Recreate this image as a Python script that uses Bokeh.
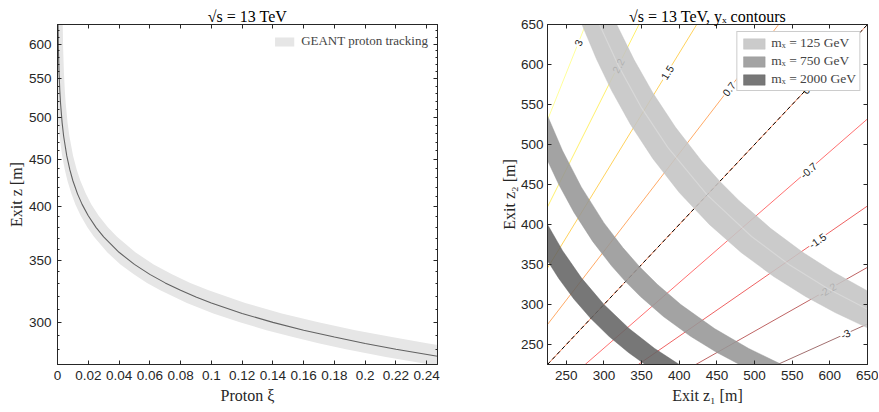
import math
from bokeh.plotting import figure
from bokeh.models import (FixedTicker, LinearAxis, LogAxis, CustomJSTickFormatter,
                          Legend, LegendItem, Range1d, ColumnDataSource)
from bokeh.layouts import row
from bokeh.embed import file_html
from bokeh.resources import INLINE
from bokeh.core.properties import value

# ---------------- data: left panel (exit z vs proton xi) ----------------
xi_center = [0.0003, 0.0006, 0.001, 0.0015, 0.002, 0.003, 0.004, 0.006, 0.008, 0.01,
             0.013, 0.016, 0.02, 0.025, 0.03, 0.04, 0.05, 0.06, 0.07, 0.08, 0.09,
             0.10, 0.12, 0.14, 0.16, 0.18, 0.20, 0.22, 0.247]
z_center = [637.8, 591.8, 559.2, 534.2, 517.0, 493.3, 476.9, 454.3, 438.7, 426.8,
            413.1, 402.4, 391.1, 380.0, 371.1, 357.1, 346.5, 338.0, 330.9, 324.8, 319.5,
            314.8, 306.6, 299.9, 294.1, 289.1, 284.5, 280.5, 275.6]

xi_band_upper = [0.0, 0.00333, 0.00369, 0.00417, 0.00476, 0.00536, 0.00655, 0.00774, 0.01012,
                 0.0125, 0.01488, 0.01845, 0.02202, 0.02679, 0.03274, 0.03869, 0.0506, 0.0625,
                 0.0744, 0.08631, 0.09821, 0.122, 0.1458, 0.1696, 0.1935, 0.2173, 0.2411, 0.253]
z_band_upper = [637.8, 637.8, 591.8, 559.2, 534.2, 517.0, 493.3, 476.9, 454.3,
                438.7, 426.8, 413.1, 402.4, 391.1, 380.0, 371.1, 357.1, 346.5,
                338.0, 330.9, 324.8, 314.8, 306.6, 299.9, 294.1, 289.1, 284.5, 282.5]
xi_band_lower = [0.0, 0.00043, 0.00129, 0.00302, 0.00474, 0.00647, 0.00905, 0.01164, 0.01509,
                 0.0194, 0.0237, 0.0323, 0.0409, 0.0496, 0.0582, 0.0668, 0.0841, 0.1013,
                 0.1185, 0.1358, 0.153, 0.1703, 0.1875, 0.2134, 0.2478]
z_band_lower = [503.9, 493.3, 476.9, 454.3, 438.7, 426.8, 413.1, 402.4, 391.1,
                380.0, 371.1, 357.1, 346.5, 338.0, 330.9, 324.8, 314.8, 306.6,
                299.9, 294.1, 289.1, 284.5, 280.5, 275.1, 269.0]

xi_ticks = [0, 0.02, 0.04, 0.06, 0.08, 0.10, 0.12, 0.14, 0.16, 0.18, 0.20, 0.22, 0.24]
z_ticks = [300, 350, 400, 450, 500, 550, 600]

# ---------------- data: right panel (z1, z2 plane) ----------------
yx_levels = ["3", "2.2", "1.5", "0.7", "0", "-0.7", "-1.5", "-2.2", "-3"]
cont_x0 = [225, 225, 225, 225, 225, 275, 345.6, 422, 530.6]
cont_y0 = [530.6, 422, 345.6, 275, 225, 225, 225, 225, 225]
cont_x1 = [275.7, 346.5, 423.2, 532, 650, 650, 650, 650, 650]
cont_y1 = [650, 650, 650, 650, 650, 532, 423.2, 346.5, 275.7]
label_x = [266, 319, 384, 466, 568, 571.6, 583.6, 596.9, 620.8]
label_y = [627, 598.5, 590, 569.5, 568, 467.8, 380, 318.2, 263.3]

mx_labels = ["mₓ = 125 GeV", "mₓ = 750 GeV", "mₓ = 2000 GeV"]
# inner (lower-left) and outer (upper-right) band edges, (z1, z2) in m
b125_in_x = [270.8, 290, 310, 335, 365, 400, 440, 482.2, 525.4, 567.7, 606.9, 650]
b125_in_y = [650, 606.9, 567.7, 525.4, 482.2, 440, 400, 365, 335, 310, 290, 270.8]
b125_out_x = [316.9, 340, 365, 395, 430, 454, 479.1, 521.5, 564.4, 605.9, 650]
b125_out_y = [650, 605.9, 564.4, 521.5, 479.1, 453.7, 430, 395, 365, 340, 316.9]
b125_mid_x = [294, 320, 350, 385, 437, 496, 545.7, 597, 650]
b125_mid_y = [650, 597, 545.7, 496, 437, 385, 350, 320, 294]
b750_in_x = [225, 240, 260, 285, 310, 328.6, 348.4, 378.9, 415.4, 450, 480]
b750_in_y = [480, 450, 415.4, 378.9, 348.4, 328.6, 310, 285, 260, 240, 225]
b750_out_x = [225, 245, 270, 300, 325, 347.3, 371.1, 402, 446.7, 492.2, 536]
b750_out_y = [536, 492.2, 446.7, 402, 371.1, 347.3, 325, 300, 270, 245, 225]
b2000_in_x = [225, 240, 260, 282.5, 306.9, 332.5, 354.7]
b2000_in_y = [354.7, 332.5, 306.9, 282.5, 260, 240, 225]
b2000_out_x = [225, 245, 270, 300, 333.3, 367.3, 400]
b2000_out_y = [400, 367.3, 333.3, 300, 270, 245, 225]

z_ticks_r = [250, 300, 350, 400, 450, 500, 550, 600, 650]

# ---------------- styles ----------------
AX = "#262626"
SANS = "Liberation Sans"
SERIF = "Liberation Serif"
cont_colors = ["#ffff9a", "#fff06c", "#ffd25c", "#ffaa66", "#ff8c60",
               "#ff7070", "#ee6262", "#bf6464", "#a27070"]
band_colors = ["#c4c4c4", "#969696", "#646464"]


def style_axis(ax, labels=True, tick_standoff=6, label_standoff=1):
    ax.major_tick_in = 4
    ax.major_tick_out = 0
    ax.minor_tick_in = 2
    ax.minor_tick_out = 0
    ax.axis_line_color = AX
    ax.major_tick_line_color = AX
    ax.minor_tick_line_color = AX
    ax.major_label_text_font = SANS
    ax.major_label_text_font_size = "13.5px"
    ax.major_label_text_color = AX
    ax.axis_label_text_font = SERIF
    ax.axis_label_text_font_style = "normal"
    ax.axis_label_text_font_size = "16px"
    ax.axis_label_text_color = AX
    if labels:
        ax.major_label_standoff = tick_standoff
        ax.axis_label_standoff = label_standoff
    else:
        ax.major_label_text_font_size = "1px"
        ax.major_label_text_color = None
        ax.major_label_standoff = 0


def style_title(p):
    p.title.text_font = SERIF
    p.title.text_font_style = "normal"
    p.title.text_font_size = "16px"
    p.title.align = "center"
    p.title.text_color = "black"
    p.title.standoff = 0
    p.title.offset = 0


# ---------------- left panel ----------------
p1 = figure(width=496, height=410, x_range=Range1d(0, 0.247),
            y_range=Range1d(270, 630), y_axis_type="log",
            output_backend="svg", toolbar_location=None,
            min_border_left=57, min_border_right=59, min_border_top=23, min_border_bottom=46,
            title="√s = 13 TeV")
style_title(p1)
p1.grid.visible = False
p1.outline_line_color = AX

band_x = xi_band_upper + xi_band_lower[::-1]
band_y = z_band_upper + z_band_lower[::-1]
band_r = p1.patch(band_x, band_y, fill_color="#e6e6e6", line_color=None)
p1.line(xi_center, z_center, line_color="#626262", line_width=1.1)

xt = FixedTicker(ticks=xi_ticks)
yt = FixedTicker(ticks=z_ticks, minor_ticks=list(range(270, 631, 10)))
xfmt = CustomJSTickFormatter(code="return String(Math.round(tick*100)/100);")
yfmt = CustomJSTickFormatter(code="return tick.toFixed(0);")
p1.xaxis.ticker = xt
p1.xaxis.formatter = xfmt
p1.yaxis.ticker = yt
p1.yaxis.formatter = yfmt
p1.xaxis.axis_label = "Proton ξ"
p1.yaxis.axis_label = "Exit z [m]"
for ax in p1.xaxis:
    style_axis(ax, tick_standoff=6, label_standoff=4)
for ax in p1.yaxis:
    style_axis(ax, tick_standoff=6, label_standoff=1)
top1 = LinearAxis(ticker=FixedTicker(ticks=xi_ticks))
right1 = LogAxis(ticker=FixedTicker(ticks=z_ticks, minor_ticks=list(range(270, 631, 10))))
style_axis(top1, labels=False)
style_axis(right1, labels=False)
p1.add_layout(top1, "above")
p1.add_layout(right1, "right")

leg1 = Legend(items=[LegendItem(label="GEANT proton tracking", renderers=[band_r])],
              location="top_right")
leg1.border_line_alpha = 0
leg1.background_fill_alpha = 0
leg1.label_text_font = SERIF
leg1.label_text_font_size = "13px"
leg1.glyph_width = 24
leg1.glyph_height = 11
leg1.margin = 2
leg1.padding = 7
leg1.label_standoff = 5
p1.add_layout(leg1)

# ---------------- right panel ----------------
xr0, xr1, yr0, yr1 = 225, 650, 225, 650
FW, FH = 320, 342
p2 = figure(width=382, height=410, x_range=Range1d(xr0, xr1),
            y_range=Range1d(yr0, yr1), output_backend="svg", toolbar_location=None,
            min_border_left=51, min_border_right=11, min_border_top=24, min_border_bottom=44,
            title="√s = 13 TeV, yₓ contours")
style_title(p2)
p2.grid.visible = False
p2.outline_line_color = AX

sx = FW / (xr1 - xr0)
sy = FH / (yr1 - yr0)
angles = [math.atan2((b - a) * sy, (d - c) * sx)
          for a, b, c, d in zip(cont_y0, cont_y1, cont_x0, cont_x1)]

for i in range(len(yx_levels)):
    p2.line([cont_x0[i], cont_x1[i]], [cont_y0[i], cont_y1[i]],
            line_color=cont_colors[i], line_width=1)

lab_src = ColumnDataSource(dict(x=label_x, y=label_y, t=yx_levels, a=angles))
p2.text(x="x", y="y", text="t", angle="a", source=lab_src,
        text_font=value(SANS), text_font_size="10.5px", text_color="#222222",
        text_align="center", text_baseline="middle",
        background_fill_color="white", padding=1)

zi = yx_levels.index("0")
p2.line([cont_x0[zi], cont_x1[zi]], [cont_y0[zi], cont_y1[zi]],
        line_color="black", line_width=1, line_dash="4 3")

bands = [(b125_in_x, b125_in_y, b125_out_x, b125_out_y),
         (b750_in_x, b750_in_y, b750_out_x, b750_out_y),
         (b2000_in_x, b2000_in_y, b2000_out_x, b2000_out_y)]
band_rs = []
for (ix, iy, ox, oy), col in zip(bands, band_colors):
    r = p2.patch(ix + ox[::-1], iy + oy[::-1], fill_color=col, fill_alpha=0.88,
                 line_color=col, line_alpha=0.9, line_width=0.5)
    band_rs.append(r)
p2.line(b125_mid_x, b125_mid_y, line_color="white", line_alpha=0.25, line_width=1.2)

xt2 = FixedTicker(ticks=z_ticks_r)
p2.xaxis.ticker = xt2
p2.yaxis.ticker = FixedTicker(ticks=z_ticks_r)
p2.xaxis.axis_label = "Exit z₁ [m]"
p2.yaxis.axis_label = "Exit z₂ [m]"
for ax in p2.xaxis:
    style_axis(ax, tick_standoff=6, label_standoff=4)
for ax in p2.yaxis:
    style_axis(ax, tick_standoff=4, label_standoff=0)
top2 = LinearAxis(ticker=FixedTicker(ticks=z_ticks_r))
right2 = LinearAxis(ticker=FixedTicker(ticks=z_ticks_r))
style_axis(top2, labels=False)
style_axis(right2, labels=False)
p2.add_layout(top2, "above")
p2.add_layout(right2, "right")

leg2 = Legend(items=[LegendItem(label=l, renderers=[r]) for l, r in zip(mx_labels, band_rs)],
              location="top_right")
leg2.border_line_color = "#9a9a9a"
leg2.border_line_width = 1
leg2.background_fill_color = "white"
leg2.background_fill_alpha = 1
leg2.label_text_font = SERIF
leg2.label_text_font_size = "13.5px"
leg2.glyph_width = 27
leg2.glyph_height = 13
leg2.margin = 7
leg2.padding = 3
leg2.spacing = 2
leg2.label_standoff = 4
leg2.label_height = 14
p2.add_layout(leg2)

layout = row(p1, p2)
open("out.html", "w").write(file_html(layout, INLINE))
